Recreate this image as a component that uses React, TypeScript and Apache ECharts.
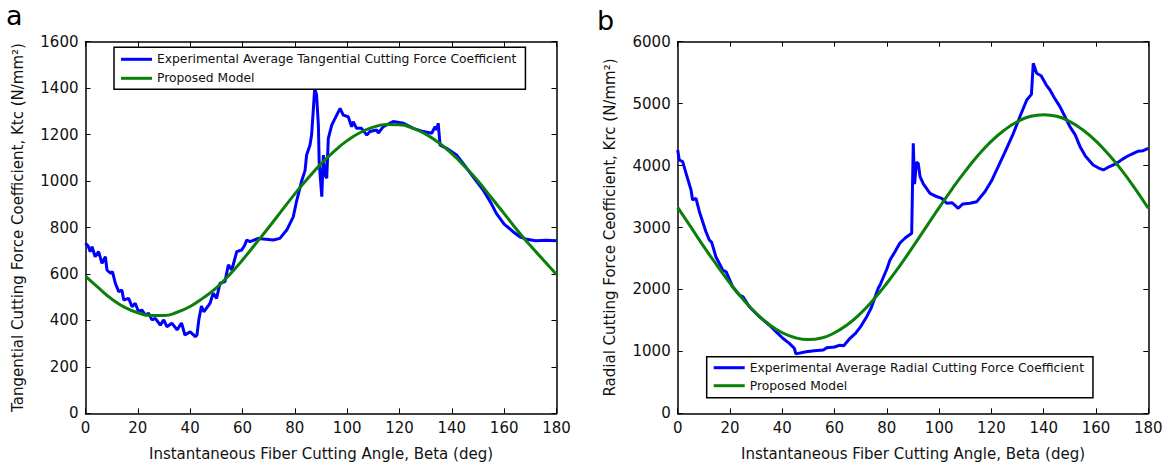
import { useEffect, useRef } from "react";
import * as echarts from "echarts";

// ---------- data ----------
const xTicks = { min: 0, max: 180, interval: 20 };
const tangentialTicks = { min: 0, max: 1600, interval: 200 };
const radialTicks = { min: 0, max: 6000, interval: 1000 };

const TAN_EXP = "Experimental Average Tangential Cutting Force Coefficient";
const RAD_EXP = "Experimental Average Radial Cutting Force Coefficient";
const MODEL = "Proposed Model";

// [angle (deg), Ktc (N/mm2)]
const tangentialExperimental: [number, number][] = [
  [0, 732], [1, 720], [1.8, 696], [2.5, 717], [3.7, 674], [5, 696], [6.3, 646], [7.6, 674],
  [8.2, 617], [9.5, 603], [10.3, 610], [11.4, 560], [12.7, 524], [13.9, 531], [14.6, 488],
  [16.5, 495], [17.8, 459], [19, 474], [20.3, 437], [21.5, 445], [22.9, 423], [24.1, 431],
  [25.4, 402], [26.7, 409], [28.6, 380], [29.9, 402], [31.1, 373], [33, 388], [35, 359],
  [36.7, 389], [38, 337], [40, 351], [42, 330], [42.6, 337], [43.3, 402], [44.3, 462],
  [45.2, 437], [47.1, 466], [47.6, 474], [48.8, 517], [50.1, 495], [51.4, 560], [53.3, 567],
  [54.6, 639], [55.9, 617], [57.8, 696], [59.7, 703], [60.9, 725], [61.6, 746], [62.9, 739],
  [66, 753], [71.8, 746], [74.3, 753], [76.9, 789], [79.4, 846], [80.7, 915], [82.6, 1000],
  [83.9, 1045], [84.5, 1112], [85.8, 1155], [86.4, 1198], [87.1, 1313], [87.6, 1400],
  [88.3, 1371], [89, 1241], [89.3, 1083], [90.3, 933], [90.9, 1112], [91.5, 1026],
  [92.2, 1012], [92.8, 1184], [94.1, 1241], [96, 1284], [97.3, 1313], [98.5, 1284],
  [100.4, 1277], [101.7, 1234], [102.3, 1256], [103.6, 1227], [105.5, 1227], [107.5, 1198],
  [108.7, 1213], [111.3, 1220], [111.9, 1206], [113.8, 1234], [117.6, 1256], [121.5, 1249],
  [125.3, 1227], [129.1, 1213], [132.3, 1206], [133.6, 1234], [134.2, 1220], [134.8, 1249],
  [135.5, 1155], [138, 1141], [141.8, 1112], [145.7, 1055], [148, 1020], [150, 990],
  [152, 961], [155, 905], [157, 861], [160, 815], [163.4, 782], [166, 760], [168.6, 749],
  [172, 743], [176, 745], [180, 743],
];

// [angle (deg), Krc (N/mm2)]
const radialExperimental: [number, number][] = [
  [0, 4252], [0.6, 4090], [1.9, 4063], [3.2, 3875], [5.1, 3605], [5.7, 3444], [7, 3471],
  [8.3, 3255], [10.8, 2932], [12.1, 2798], [13, 2760], [14.6, 2528], [17.2, 2314],
  [18.5, 2286], [21, 2044], [23.6, 1910], [25, 1880], [27.4, 1721], [31.2, 1560], [35, 1426],
  [37.6, 1318], [40.2, 1211], [42.7, 1130], [44.6, 1050], [45.2, 960], [49.1, 995],
  [52.2, 1011], [55.7, 1022], [57, 1060], [60, 1070], [62, 1100], [63.5, 1090], [65.9, 1211],
  [68, 1290], [70, 1400], [72.3, 1560], [74, 1700], [76.7, 2018], [77.4, 2072], [80, 2330],
  [81.2, 2475], [83.1, 2609], [85, 2750], [87, 2830], [89.5, 2906], [90.1, 4360],
  [90.6, 3700], [91.3, 4050], [92, 4037], [92.7, 3821], [94, 3700], [96.5, 3552], [99, 3500],
  [101, 3471], [102.9, 3391], [105, 3400], [107.3, 3310], [109, 3380], [111.8, 3391],
  [114.4, 3417], [117.5, 3578], [120, 3750], [122, 3929], [125, 4200], [128.4, 4521],
  [131, 4800], [133.5, 5059], [135.3, 5150], [136, 5651], [137.3, 5490], [139, 5450],
  [141, 5300], [142.4, 5220], [144, 5100], [146.2, 4951], [148, 4800], [150, 4628],
  [152, 4500], [153.9, 4305], [156, 4150], [158.9, 4009], [161, 3960], [162.8, 3929],
  [165, 3980], [167.9, 4037], [170, 4100], [172, 4150], [174.3, 4198], [176, 4230],
  [178, 4240], [180, 4279],
];

const modelAngles = [
  0, 5, 10, 15, 20, 25, 30, 35, 40, 45, 50, 55, 60, 65, 70, 75, 80, 85, 90,
  95, 100, 105, 110, 115, 120, 125, 130, 135, 140, 145, 150, 155, 160, 165, 170, 175, 180,
];
const tangentialModel = [
  591, 540, 492, 456, 433, 421, 421, 435, 460, 497, 540, 596, 660, 730, 800, 873, 945, 1012, 1074,
  1128, 1174, 1209, 1232, 1243, 1242, 1228, 1202, 1165, 1118, 1062, 1000, 930, 860, 788, 722, 660, 598,
];
const radialModel = [
  3326, 3010, 2690, 2390, 2100, 1840, 1615, 1435, 1300, 1220, 1190, 1215, 1300, 1435, 1615, 1840, 2100,
  2385, 2690, 3005, 3320, 3625, 3910, 4170, 4395, 4575, 4710, 4795, 4820, 4795, 4710, 4575, 4395, 4170,
  3915, 3625, 3310,
];

// ---------- styles ----------
const FONT = "DejaVu Sans, Liberation Sans, Arial, sans-serif";
const TXT = "#111";
const BLUE = "#0000ff";
const GREEN = "#0a800a";

const GRIDS = [
  { left: 85.5, top: 41.7, width: 471, height: 371.6 },
  { left: 677.7, top: 41.7, width: 470.6, height: 371.6 },
];

const plain = (v: number) => String(v);

function xAxisPair(gridIndex: number) {
  const common = {
    type: "value" as const,
    gridIndex,
    ...xTicks,
    splitLine: { show: false },
    axisLine: { show: true, onZero: false, lineStyle: { color: "#000", width: 1.5 } },
    axisTick: { show: true, inside: true, length: 5, lineStyle: { color: "#000", width: 1 } },
  };
  return [
    {
      ...common,
      position: "bottom",
      name: "Instantaneous Fiber Cutting Angle, Beta (deg)",
      nameLocation: "middle",
      nameGap: 33,
      nameTextStyle: { fontSize: 15, color: TXT, fontFamily: FONT },
      axisLabel: { fontSize: 15, color: TXT, fontFamily: FONT, margin: 7, formatter: plain },
    },
    { ...common, position: "top", axisLabel: { show: false } },
  ];
}

function yAxisPair(gridIndex: number, ticks: typeof tangentialTicks, name: string) {
  const common = {
    type: "value" as const,
    gridIndex,
    ...ticks,
    splitLine: { show: false },
    axisLine: { show: true, onZero: false, lineStyle: { color: "#000", width: 1.5 } },
    axisTick: { show: true, inside: true, length: 5, lineStyle: { color: "#000", width: 1 } },
  };
  return [
    {
      ...common,
      position: "left",
      name,
      nameLocation: "middle",
      nameGap: 60,
      nameTextStyle: { fontSize: 15, color: TXT, fontFamily: FONT },
      axisLabel: { fontSize: 15, color: TXT, fontFamily: FONT, margin: 7, formatter: plain },
    },
    { ...common, position: "right", axisLabel: { show: false } },
  ];
}

function legendBox(names: string[], left: number, top: number, itemGap: number, padding: number[]) {
  return {
    data: names.map((n) => ({ name: n })),
    orient: "vertical",
    left,
    top,
    icon: "rect",
    itemWidth: 31,
    itemHeight: 3,
    itemGap,
    padding,
    selectedMode: false,
    backgroundColor: "#fff",
    borderColor: "#000",
    borderWidth: 1.5,
    borderRadius: 0,
    textStyle: { fontSize: 12.3, color: TXT, fontFamily: FONT },
  };
}

export default function App() {
  const ref = useRef<HTMLDivElement>(null);

  useEffect(() => {
    if (!ref.current) return;
    const chart = echarts.init(ref.current, null, { renderer: "svg" });
    const zip = (a: number[], b: number[]) => a.map((x, i) => [x, b[i]]);

    const option = {
      animation: false,
      backgroundColor: "#fff",
      grid: GRIDS,
      xAxis: [...xAxisPair(0), ...xAxisPair(1)],
      yAxis: [
        ...yAxisPair(0, tangentialTicks, "Tangential Cutting Force Coefficient, Ktc (N/mm²)"),
        ...yAxisPair(1, radialTicks, "Radial Cutting Force Ceofficient, Krc (N/mm²)"),
      ],
      legend: [
        legendBox([TAN_EXP, MODEL], 114, 47.3, 7, [6, 9, 5, 7]),
        legendBox([RAD_EXP, MODEL], 706.7, 356.7, 6, [5, 9, 6, 7]),
      ],
      graphic: [
        { type: "text", left: 6, top: 2, style: { text: "a", fontSize: 27, fontFamily: FONT, fill: "#000" } },
        { type: "text", left: 597, top: 7, style: { text: "b", fontSize: 27, fontFamily: FONT, fill: "#000" } },
      ],
      series: [
        {
          name: TAN_EXP,
          type: "line",
          xAxisIndex: 0,
          yAxisIndex: 0,
          data: tangentialExperimental,
          showSymbol: false,
          symbol: "none",
          color: BLUE,
          lineStyle: { color: BLUE, width: 3 },
          z: 2,
        },
        {
          name: MODEL,
          type: "line",
          xAxisIndex: 0,
          yAxisIndex: 0,
          data: zip(modelAngles, tangentialModel),
          showSymbol: false,
          symbol: "none",
          smooth: true,
          color: GREEN,
          lineStyle: { color: GREEN, width: 3 },
          z: 3,
        },
        {
          name: RAD_EXP,
          type: "line",
          xAxisIndex: 2,
          yAxisIndex: 2,
          data: radialExperimental,
          showSymbol: false,
          symbol: "none",
          color: BLUE,
          lineStyle: { color: BLUE, width: 3 },
          z: 2,
        },
        {
          name: MODEL,
          type: "line",
          xAxisIndex: 2,
          yAxisIndex: 2,
          data: zip(modelAngles, radialModel),
          showSymbol: false,
          symbol: "none",
          smooth: true,
          color: GREEN,
          lineStyle: { color: GREEN, width: 3 },
          z: 3,
        },
      ],
    };

    chart.setOption(option as any);
    return () => chart.dispose();
  }, []);

  return (
    <div
      ref={ref}
      style={{ position: "absolute", left: 0, top: 0, width: 1168, height: 468, background: "#fff" }}
    />
  );
}
